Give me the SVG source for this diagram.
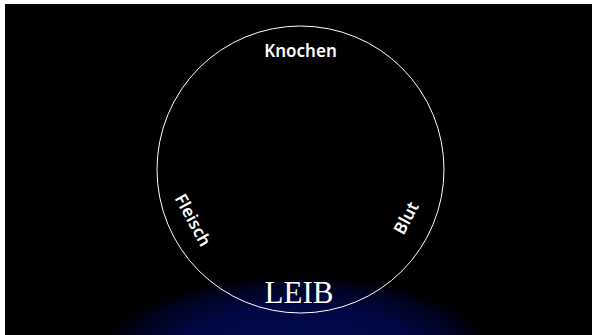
<svg xmlns="http://www.w3.org/2000/svg" width="592" height="335" viewBox="0 0 592 335">
  <style>
    .lbl { fill: #ffffff; font-family: "Noto Sans", "DejaVu Sans", sans-serif; font-weight: 600; font-size: 17px; text-anchor: middle; }
    .title { fill: #ffffff; font-family: "Liberation Serif", "DejaVu Serif", serif; font-size: 31px; text-anchor: middle; }
    .ring { fill: none; stroke: #ffffff; stroke-width: 1; }
  </style>
  <defs>
    <radialGradient id="glow" gradientUnits="userSpaceOnUse" cx="297" cy="352" r="205" gradientTransform="translate(0 352) scale(1 0.4) translate(0 -352)">
      <stop offset="0" stop-color="#000a50"/>
      <stop offset="0.55" stop-color="#000845"/>
      <stop offset="0.82" stop-color="#00031f"/>
      <stop offset="1" stop-color="#000000" stop-opacity="0"/>
    </radialGradient>
  </defs>
  <rect x="0" y="0" width="592" height="335" fill="#ffffff"/>
  <rect x="5" y="4" width="587" height="331" fill="#000000"/>
  <rect x="5" y="4" width="587" height="331" fill="url(#glow)"/>
  <g id="connectors"/>
  <g id="leib">
    <circle class="ring" cx="300.5" cy="169.5" r="143.5"/>
    <text class="title" x="299" y="303">LEIB</text>
  </g>
  <g id="knochen">
    <text class="lbl" x="300.5" y="57">Knochen</text>
  </g>
  <g id="fleisch">
    <text class="lbl" transform="translate(193 220) rotate(61.5)" x="0" y="6">Fleisch</text>
  </g>
  <g id="blut">
    <text class="lbl" transform="translate(406 218) rotate(-62)" x="0" y="6">Blut</text>
  </g>
</svg>
